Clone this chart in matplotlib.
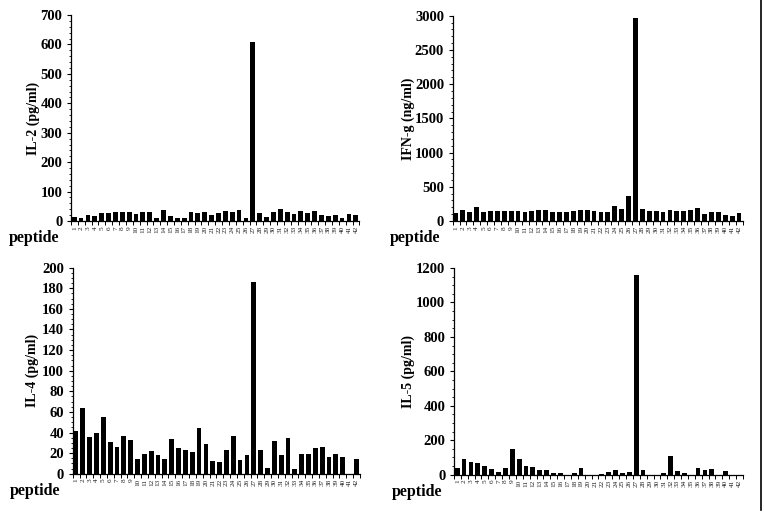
import numpy as np
import matplotlib
matplotlib.use("Agg")
import matplotlib.pyplot as plt
from matplotlib.ticker import MultipleLocator, FixedLocator, NullFormatter
from matplotlib.lines import Line2D

plt.rcParams["font.family"] = ["Liberation Serif", "DejaVu Serif"]

PEPTIDES = [str(i) for i in range(1, 43)]

IL2 = [12, 9, 20, 17, 26, 26, 30, 30, 31, 25, 30, 29, 11, 39, 17, 10, 11, 30,
       28, 30, 22, 28, 33, 29, 36, 10, 607, 26, 14, 31, 40, 31, 24, 35, 27, 34,
       20, 16, 20, 11, 25, 20]
IFNG = [110, 156, 136, 205, 131, 146, 146, 141, 151, 146, 136, 151, 156, 156,
        131, 131, 131, 151, 166, 166, 146, 136, 136, 219, 170, 360, 2960, 170,
        146, 151, 136, 156, 151, 146, 161, 195, 107, 131, 131, 93, 73, 122]
IL4 = [41, 64, 36, 40, 55, 31, 26, 37, 33, 14, 19, 22, 18, 14, 34, 25, 23, 21,
       44, 29, 12, 11, 23, 37, 13, 18, 186, 23, 6, 32, 18, 35, 5, 19, 19, 25,
       26, 16, 19, 16, 0, 14]
IL5 = [37, 93, 72, 70, 50, 33, 15, 37, 147, 89, 50, 45, 27, 27, 8, 8, 0, 10,
       37, 0, 0, 6, 14, 27, 12, 15, 1160, 27, 0, 0, 10, 110, 23, 12, 0, 37, 25,
       31, 0, 19, 0, 0]

# (values, ylabel, ymax, major, minor, axes rect, ylabel x in axes fraction)
PANELS = [
    (IL2, "IL-2 (pg/ml)", 700, 100, 20, [0.0929, 0.570, 0.3776, 0.4008], -0.132),
    (IFNG, "IFN-g (ng/ml)", 3000, 500, 100, [0.5925, 0.570, 0.3796, 0.3994], -0.153),
    (IL4, "IL-4 (pg/ml)", 200, 20, 5, [0.0952, 0.0784, 0.3760, 0.4008], -0.142),
    (IL5, "IL-5 (pg/ml)", 1200, 200, 50, [0.5942, 0.0765, 0.3783, 0.4021], -0.157),
]


def draw_panel(fig, values, ylabel, ymax, major, minor, rect, lab_x):
    ax = fig.add_axes(rect)
    n = len(values)
    slots = np.arange(n)
    ax.bar(slots + 0.12, values, width=0.7, align="edge", color="black",
           linewidth=0)
    ax.set_xlim(0, n)
    ax.set_ylim(0, ymax)

    for side in ("top", "right"):
        ax.spines[side].set_visible(False)
    for side in ("left", "bottom"):
        ax.spines[side].set_linewidth(0.9)

    # ticks at slot boundaries, labels centred in slots
    ax.xaxis.set_major_locator(FixedLocator(np.arange(n + 1)))
    ax.xaxis.set_major_formatter(NullFormatter())
    ax.xaxis.set_minor_locator(FixedLocator(slots + 0.5))
    ax.set_xticklabels(PEPTIDES, minor=True, rotation=90, fontsize=5.2,
                       color="#222222")
    ax.tick_params(axis="x", which="major", direction="out", length=3.2,
                   width=0.7)
    ax.tick_params(axis="x", which="minor", length=0, pad=3.5)

    ax.yaxis.set_major_locator(MultipleLocator(major))
    ax.yaxis.set_minor_locator(MultipleLocator(minor))
    ax.tick_params(axis="y", which="major", direction="out", length=3.2,
                   width=0.8, pad=3.0, labelsize=10.5)
    ax.tick_params(axis="y", which="minor", direction="out", length=1.8,
                   width=0.6)
    for lab in ax.get_yticklabels():
        lab.set_fontweight("bold")

    ax.text(lab_x, 0.5, ylabel, rotation=90, ha="center", va="center",
            fontsize=10, fontweight="bold", transform=ax.transAxes)
    ax.annotate("peptide", xy=(0, 0), xycoords="axes fraction",
                xytext=(-12, -17), textcoords="offset pixels",
                ha="right", va="center", fontsize=11.5, fontweight="bold")
    return ax


fig = plt.figure(figsize=(7.64, 5.14), dpi=100)
for values, ylabel, ymax, major, minor, rect, lab_x in PANELS:
    draw_panel(fig, values, ylabel, ymax, major, minor, rect, lab_x)

# border line at the right edge of the scanned page
fig.add_artist(Line2D([0.9961, 0.9961], [0.008, 1.0], color="black",
                      linewidth=1.2, transform=fig.transFigure))

fig.savefig("out.png", dpi=100)
plt.close(fig)
